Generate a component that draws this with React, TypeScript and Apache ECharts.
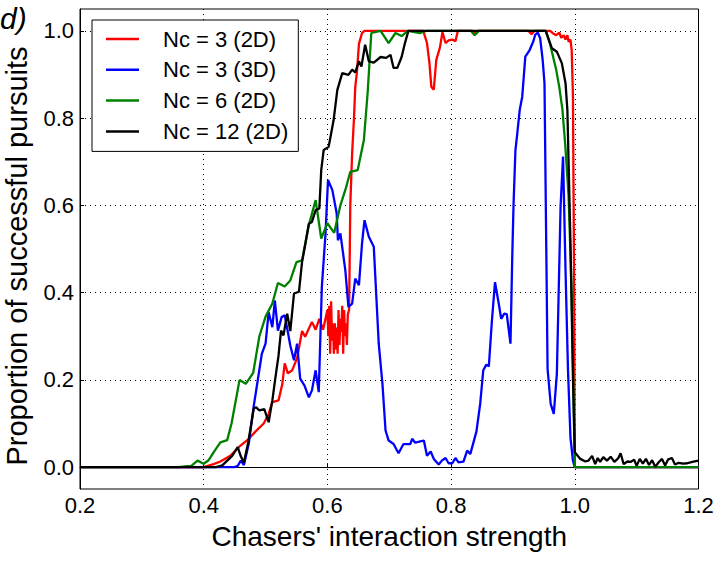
import React, { useEffect, useRef } from "react";
import * as echarts from "echarts";

const yTickValues = [0, 0.2, 0.4, 0.6, 0.8, 1.0];
const xAxisTitle = "Chasers' interaction strength";
const yAxisTitle = "Proportion of successful pursuits";
const panelLabel = "d)";
const seriesNames = ["Nc = 3 (2D)", "Nc = 3 (3D)", "Nc = 6 (2D)", "Nc = 12 (2D)"];

const redX = [
  0.2, 0.4, 0.416, 0.427, 0.443, 0.459, 0.473, 0.486, 0.497, 0.505, 0.511, 0.521, 0.527, 0.531, 0.536,
  0.543, 0.551, 0.559, 0.564, 0.575, 0.581, 0.587, 0.593, 0.6, 0.6015, 0.603, 0.6045, 0.606, 0.6075,
  0.609, 0.6105, 0.612, 0.6135, 0.615, 0.6165, 0.618, 0.6195, 0.621, 0.6225, 0.624, 0.6255, 0.627,
  0.6285, 0.63, 0.6315, 0.633, 0.635, 0.636, 0.637, 0.64, 0.643, 0.645, 0.648, 0.651, 0.656, 0.66,
  0.755, 0.761, 0.765, 0.768, 0.772, 0.776, 0.782, 0.786, 0.791, 0.796, 0.802, 0.807, 0.811, 0.835,
  0.839, 0.843, 0.925, 0.93, 0.935, 0.96, 0.965, 0.97, 0.975, 0.978, 0.982, 0.985, 0.988, 0.99, 0.993,
  0.995, 0.997, 0.999, 1.0, 1.2,
];
const redY = [
  0, 0, 0.007, 0.013, 0.026, 0.049, 0.065, 0.085, 0.1, 0.122, 0.149, 0.153, 0.19, 0.238, 0.215,
  0.222, 0.25, 0.312, 0.299, 0.333, 0.315, 0.34, 0.315, 0.36, 0.3, 0.37, 0.26, 0.38, 0.29,
  0.33, 0.26, 0.33, 0.27, 0.32, 0.26, 0.36, 0.28, 0.34, 0.31, 0.37, 0.26, 0.36,
  0.3, 0.33, 0.28, 0.35, 0.36, 0.47, 0.6, 0.72, 0.8, 0.87, 0.91, 0.97, 0.995, 1.0,
  1.0, 0.972, 0.926, 0.872, 0.865, 0.933, 0.962, 0.997, 0.972, 0.978, 0.98, 0.976, 1.0, 1.0,
  0.994, 1.0, 1.0, 0.992, 1.0, 1.0, 0.994, 0.99, 0.996, 0.984, 0.99, 0.98, 0.99, 0.975, 0.98,
  0.955, 0.85, 0.4, 0, 0,
];

const blueX = [
  0.2, 0.45, 0.455, 0.46, 0.465, 0.473, 0.481, 0.489, 0.494, 0.5, 0.505, 0.511, 0.515, 0.52, 0.526,
  0.531, 0.536, 0.54, 0.546, 0.551, 0.556, 0.563, 0.57, 0.575, 0.581, 0.586, 0.591, 0.597, 0.601,
  0.608, 0.615, 0.617, 0.621, 0.629, 0.634, 0.64, 0.645, 0.651, 0.656, 0.66, 0.667, 0.675, 0.683,
  0.689, 0.694, 0.699, 0.707, 0.715, 0.723, 0.734, 0.737, 0.742, 0.75, 0.756, 0.761, 0.767, 0.772,
  0.78, 0.785, 0.791, 0.796, 0.802, 0.807, 0.812, 0.82, 0.826, 0.831, 0.841, 0.847, 0.852, 0.857,
  0.861, 0.866, 0.871, 0.877, 0.881, 0.886, 0.89, 0.896, 0.899, 0.901, 0.904, 0.907, 0.911, 0.915,
  0.92, 0.927, 0.933, 0.936, 0.94, 0.944, 0.948, 0.951, 0.956, 0.961, 0.966, 0.971, 0.977, 0.981,
  0.985, 0.989, 0.993, 0.997, 1.0, 1.2,
];
const blueY = [
  0, 0, 0.003, 0.015, 0.005, 0.055, 0.141, 0.214, 0.26, 0.283, 0.355, 0.321, 0.382, 0.313, 0.344,
  0.348, 0.31, 0.279, 0.245, 0.283, 0.203, 0.187, 0.16, 0.176, 0.222, 0.172, 0.413, 0.536, 0.658,
  0.635, 0.582, 0.52, 0.536, 0.451, 0.367, 0.375, 0.432, 0.417, 0.513, 0.566, 0.528, 0.505, 0.283,
  0.191, 0.084, 0.061, 0.053, 0.032, 0.053, 0.053, 0.065, 0.056, 0.059, 0.061, 0.026, 0.036, 0.019,
  0.006, 0.015, 0.021, 0.009, 0.009, 0.021, 0.011, 0.013, 0.038, 0.03, 0.082, 0.145, 0.222, 0.235,
  0.231, 0.336, 0.424, 0.375, 0.34, 0.352, 0.351, 0.283, 0.49, 0.604, 0.726, 0.765, 0.819, 0.849,
  0.941, 0.956, 0.976, 0.991, 0.996, 0.983, 0.934, 0.88, 0.225, 0.145, 0.122, 0.214, 0.597, 0.712,
  0.451, 0.222, 0.068, 0.015, 0, 0,
];

const greenX = [
  0.2, 0.36, 0.37, 0.38, 0.39, 0.4, 0.408, 0.416, 0.427, 0.438, 0.445, 0.458, 0.468, 0.48, 0.49,
  0.5, 0.511, 0.52, 0.531, 0.54, 0.55, 0.559, 0.57, 0.581, 0.59, 0.6, 0.611, 0.621, 0.63, 0.637,
  0.649, 0.659, 0.665, 0.671, 0.686, 0.699, 0.71, 0.72, 0.73, 0.75, 0.76, 0.832, 0.838, 0.845,
  0.953, 0.96, 0.965, 0.97, 0.975, 0.98, 0.985, 0.99, 0.995, 1.0, 1.2,
];
const greenY = [
  0, 0, 0.002, 0.003, 0.015, 0.008, 0.016, 0.034, 0.057, 0.062, 0.1, 0.2, 0.191, 0.216, 0.3,
  0.345, 0.375, 0.422, 0.414, 0.428, 0.47, 0.474, 0.555, 0.612, 0.524, 0.559, 0.537, 0.6, 0.64, 0.677,
  0.681, 0.75, 0.857, 0.995, 1.0, 0.972, 0.995, 0.988, 1.0, 0.995, 1.0, 1.0, 0.99, 1.0,
  1.0, 0.97, 0.94, 0.91, 0.87, 0.82, 0.73, 0.62, 0.4, 0, 0,
];

const blackX = [
  0.2, 0.42, 0.43, 0.438, 0.446, 0.455, 0.46, 0.465, 0.472, 0.481, 0.485, 0.49, 0.498, 0.505, 0.511,
  0.516, 0.521, 0.525, 0.529, 0.535, 0.54, 0.546, 0.554, 0.559, 0.564, 0.57, 0.575, 0.581, 0.587,
  0.59, 0.594, 0.602, 0.61, 0.616, 0.624, 0.634, 0.64, 0.645, 0.651, 0.655, 0.661, 0.667, 0.675,
  0.686, 0.695, 0.702, 0.707, 0.713, 0.72, 0.725, 0.731, 0.953, 0.963, 0.971, 0.979, 0.985, 0.988,
  0.993, 0.997, 1.0, 1.009, 1.017, 1.022, 1.028, 1.033, 1.037, 1.041, 1.046, 1.052, 1.058, 1.064,
  1.07, 1.074, 1.079, 1.085, 1.09, 1.096, 1.1, 1.105, 1.11, 1.115, 1.12, 1.125, 1.13, 1.136, 1.141,
  1.146, 1.151, 1.157, 1.162, 1.168, 1.175, 1.182, 1.19, 1.2,
];
const blackY = [
  0, 0, 0.004, 0.015, 0.026, 0.046, 0.025, 0.01, 0.057, 0.135, 0.137, 0.13, 0.133, 0.103, 0.153,
  0.206, 0.256, 0.313, 0.302, 0.352, 0.312, 0.398, 0.402, 0.47, 0.509, 0.558, 0.562, 0.589, 0.593,
  0.68, 0.727, 0.734, 0.795, 0.864, 0.903, 0.899, 0.911, 0.905, 0.93, 0.918, 0.968, 0.93, 0.927,
  0.94, 0.938, 0.945, 0.915, 0.915, 0.94, 0.97, 1.0, 1.0, 0.96, 0.952, 0.926, 0.88, 0.819,
  0.512, 0.206, 0.034, 0.019, 0.013, 0.015, 0.026, 0.007, 0.021, 0.012, 0.023, 0.015, 0.024, 0.012,
  0.02, 0.032, 0.007, 0.013, 0.012, 0.017, 0.003, 0.019, 0.008, 0.019, 0.005, 0.016, 0.001, 0.012,
  0.019, 0.004, 0.018, 0.021, 0.006, 0.01, 0.008, 0.009, 0.012, 0.015,
];

const zip = (xs: number[], ys: number[]) => xs.map((x, i) => [x, ys[i]]);

export default function App() {
  const ref = useRef<HTMLDivElement>(null);
  useEffect(() => {
    if (!ref.current) return;
    const chart = echarts.init(ref.current, null, { renderer: "svg" });
    const font = "'Liberation Sans', Arial, sans-serif";
    const colors = ["#ff0000", "#0000ff", "#008000", "#000000"];
    const data = [zip(redX, redY), zip(blueX, blueY), zip(greenX, greenY), zip(blackX, blackY)];
    chart.setOption({
      animation: false,
      backgroundColor: "#ffffff",
      textStyle: { fontFamily: font },
      grid: {
        left: 80,
        top: 9,
        width: 618.5,
        height: 480,
        show: true,
        borderColor: "#000",
        borderWidth: 1,
        backgroundColor: "transparent",
      },
      legend: {
        orient: "vertical",
        left: 92,
        top: 20,
        padding: [8, 10, 9, 14],
        icon: "rect",
        itemWidth: 33,
        itemHeight: 2.5,
        itemGap: 8.8,
        backgroundColor: "#fff",
        borderColor: "#000",
        borderWidth: 1,
        borderRadius: 0,
        data: seriesNames,
        textStyle: { fontSize: 22, color: "#000", fontFamily: font, padding: [0, 0, 0, 19] },
      },
      graphic: [
        {
          type: "text",
          left: 0,
          top: 3,
          style: { text: panelLabel, font: `italic 30px ${font}`, fill: "#000" },
        },
        {
          type: "text",
          x: 17,
          y: 256,
          rotation: Math.PI / 2,
          style: {
            text: yAxisTitle,
            font: `29px ${font}`,
            fill: "#000",
            align: "center",
            verticalAlign: "middle",
          },
        },
      ],
      xAxis: {
        type: "value",
        min: 0.2,
        max: 1.2,
        interval: 0.2,
        name: xAxisTitle,
        nameLocation: "middle",
        nameGap: 33,
        nameTextStyle: { fontSize: 28, color: "#000", fontFamily: font },
        axisLine: { show: true, lineStyle: { color: "#000", width: 1 } },
        axisTick: { show: true, inside: true, length: 4, lineStyle: { color: "#000" } },
        axisLabel: {
          fontSize: 22,
          color: "#000",
          margin: 5,
          formatter: (v: number) => v.toFixed(1),
          showMinLabel: true,
          showMaxLabel: true,
        },
        splitLine: { show: true, lineStyle: { color: "#000", width: 1, type: [1, 4] } },
      },
      yAxis: {
        type: "value",
        min: -0.05,
        max: 1.05,
        axisLine: { show: true, lineStyle: { color: "#000", width: 1 } },
        axisTick: {
          show: true,
          inside: true,
          length: 4,
          customValues: yTickValues,
          lineStyle: { color: "#000" },
        },
        axisLabel: {
          fontSize: 22,
          color: "#000",
          margin: 6,
          customValues: yTickValues,
          formatter: (v: number) => v.toFixed(1),
        },
        splitLine: { show: true, lineStyle: { color: "#000", width: 1, type: [1, 4] } },
      },
      series: seriesNames.map((name, i) => ({
        name,
        type: "line",
        data: data[i],
        symbol: "none",
        showSymbol: false,
        clip: true,
        color: colors[i],
        lineStyle: { color: colors[i], width: 2.3 },
        z: 2 + i,
      })),
    });
    return () => chart.dispose();
  }, []);
  return (
    <div
      ref={ref}
      style={{ position: "fixed", left: 0, top: 0, width: 723, height: 561, background: "#fff" }}
    />
  );
}
